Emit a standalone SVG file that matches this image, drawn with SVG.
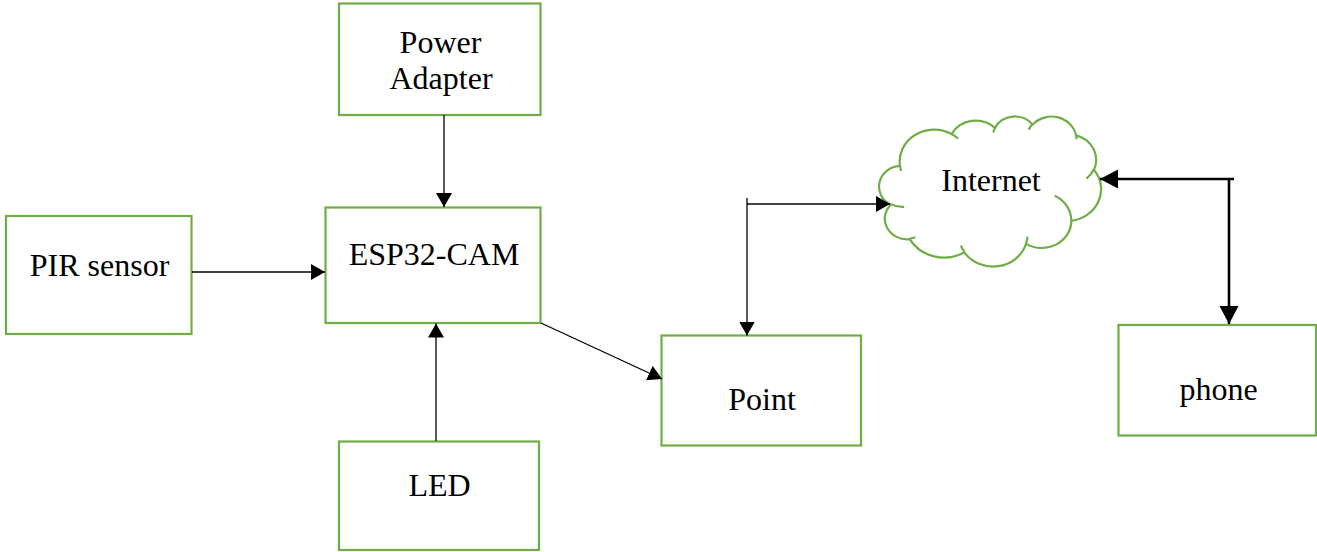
<svg xmlns="http://www.w3.org/2000/svg" width="1317" height="552" viewBox="0 0 1317 552">
<style>
.box{fill:#fff;stroke:#70AD47;stroke-width:2.2}
.cloud{fill:#fff;stroke:#70AD47;stroke-width:2.2}
.inner{fill:none;stroke:#70AD47;stroke-width:2.2}
.t{font-family:"Liberation Serif","Times New Roman",serif;font-size:32px;fill:#000;text-anchor:middle}
.c{stroke:#000;stroke-width:1.3;fill:none}
.ck{stroke:#000;stroke-width:2.6;fill:none}
</style>
<defs>
<marker id="a" markerUnits="userSpaceOnUse" markerWidth="16" markerHeight="17" refX="14" refY="8" orient="auto">
<path d="M0,0 L14,8 L0,16 Z" fill="#000"/>
</marker>
<marker id="ak" markerUnits="userSpaceOnUse" markerWidth="19" markerHeight="20" refX="18" refY="9.5" orient="auto">
<path d="M0,0 L18,9.5 L0,19 Z" fill="#000"/>
</marker>
</defs>
<rect width="1317" height="552" fill="#fff"/>
<g id="power">
<rect class="box" x="339" y="3.5" width="201.5" height="111.5"/>
<text class="t" x="440.5" y="52.5">Power</text>
<text class="t" x="441" y="89">Adapter</text>
</g>
<g id="esp">
<rect class="box" x="325.5" y="207.5" width="215" height="115.5"/>
<text class="t" x="434" y="265">ESP32-CAM</text>
</g>
<g id="pir">
<rect class="box" x="6" y="216" width="185.5" height="118"/>
<text class="t" x="99.5" y="276">PIR sensor</text>
</g>
<g id="led">
<rect class="box" x="339" y="441.5" width="200" height="108.5"/>
<text class="t" x="439.5" y="495.5">LED</text>
</g>
<g id="point">
<rect class="box" x="661.5" y="335.5" width="199.5" height="110"/>
<text class="t" x="762" y="410">Point</text>
</g>
<g id="phone">
<rect class="box" x="1118.5" y="325" width="197.5" height="110.5"/>
<text class="t" x="1218.5" y="400">phone</text>
</g>
<g id="internet">
<path class="cloud" d="M899.95,165.90 A34.55,31.91 0 0 1 951.64,134.06 A27.28,25.23 0 0 1 994.87,127.92 A22.33,20.64 0 0 1 1032.61,124.62 A24.85,22.90 0 0 1 1076.02,135.36 A27.28,25.25 0 0 1 1093.93,169.68 A34.66,32.01 0 0 1 1071.35,220.87 A29.59,27.32 0 0 1 1026.08,243.83 A34.54,32.00 0 0 1 964.31,252.35 A39.49,36.61 0 0 1 909.70,239.18 A22.30,20.55 0 0 1 890.82,204.73 A22.23,20.64 0 0 1 899.95,165.90 Z"/>
<path class="inner" d="M904.01,206.89 A22.23,20.64 0 0 1 891.05,204.13 M915.44,237.18 A22.30,20.55 0 0 1 909.77,238.50 M964.30,251.73 A34.54,32.00 0 0 1 960.87,245.68 M1027.47,236.66 A34.54,32.00 0 0 1 1026.10,243.29 M1054.59,195.70 A29.59,27.32 0 0 1 1071.23,220.48 M1093.83,169.31 A27.28,25.25 0 0 1 1086.42,178.61 M1076.05,134.84 A24.85,22.90 0 0 1 1076.44,139.23 M1028.75,129.72 A24.85,22.90 0 0 1 1032.55,124.12 M993.27,132.39 A22.33,20.64 0 0 1 995.10,127.56 M951.62,134.03 A34.55,31.91 0 0 1 958.27,138.71 M901.11,170.82 A34.55,31.91 0 0 1 899.95,165.90"/>
<text class="t" x="991" y="190.5">Internet</text>
</g>
<g id="connectors">
<line class="c" x1="444" y1="115" x2="444" y2="207" marker-end="url(#a)"/>
<line class="c" x1="192" y1="272" x2="325" y2="272" marker-end="url(#a)"/>
<line class="c" x1="436" y1="441" x2="436" y2="323.5" marker-end="url(#a)"/>
<line class="c" x1="541" y1="323" x2="662" y2="379" marker-end="url(#a)"/>
<line class="c" x1="747" y1="198" x2="747" y2="335.5" marker-end="url(#a)"/>
<line class="c" x1="747" y1="204" x2="890" y2="204" marker-end="url(#a)"/>
<line class="ck" x1="1234" y1="179" x2="1100" y2="179" marker-end="url(#ak)"/>
<line class="ck" x1="1229" y1="179" x2="1229" y2="324" marker-end="url(#ak)"/>
</g>
</svg>
